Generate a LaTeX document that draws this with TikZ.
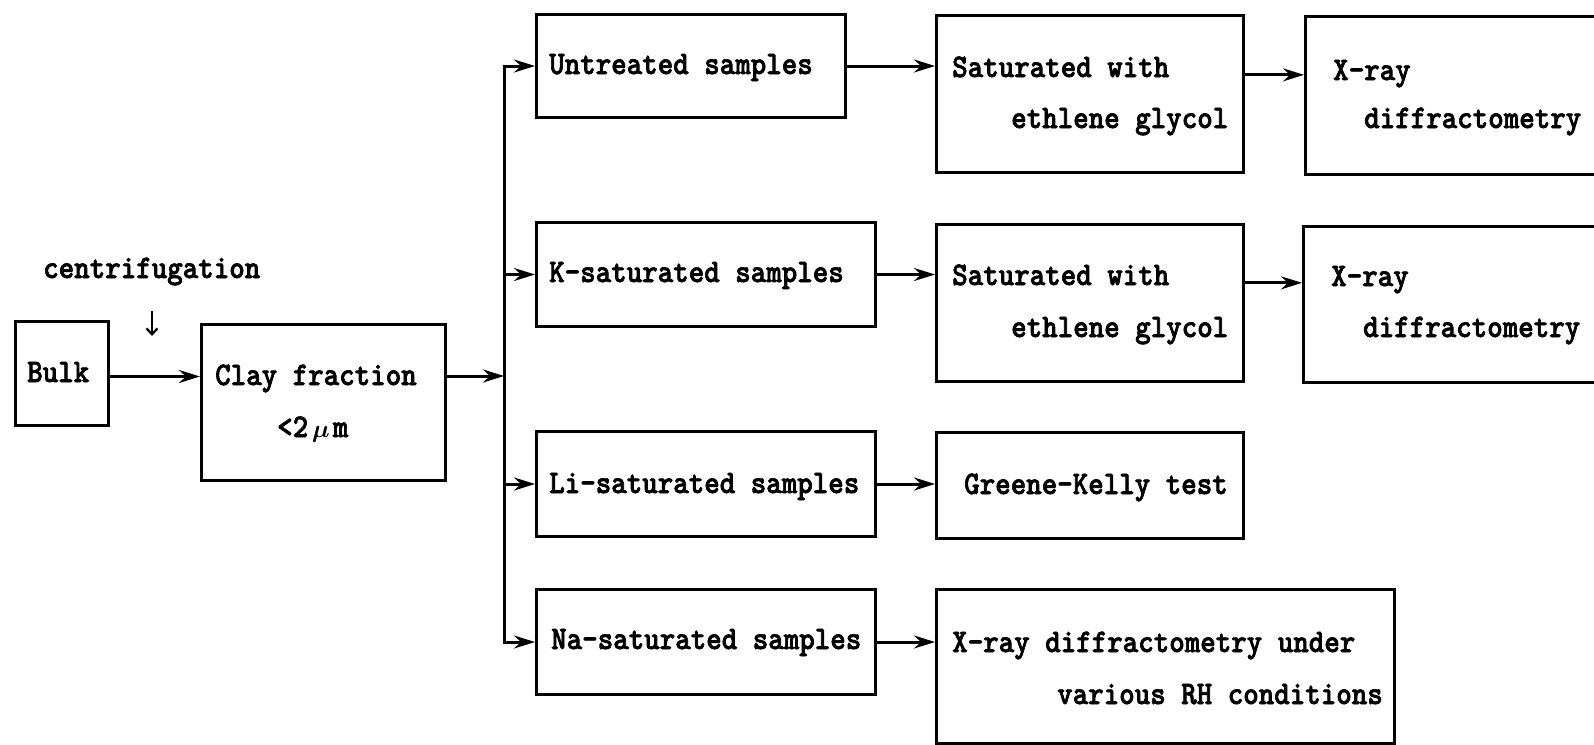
\documentclass[tikz,border=0pt]{standalone}
\usepackage{fontspec}
\usepackage{bm}
\newfontfamily\boxfont{lmmonolt10-bold.otf}[FakeStretch=0.895, FakeBold=2]
\usetikzlibrary{arrows.meta}

\begin{document}
\begin{tikzpicture}[x=1pt, y=-1pt,
  box/.style={draw, rectangle, line width=3pt, inner sep=0pt, anchor=north west},
  lbl/.style={anchor=base west, inner sep=0pt, font=\boxfont\fontsize{33pt}{40pt}\selectfont},
  arr/.style={line width=3pt, -{Stealth[length=21pt, width=13pt, inset=7pt]}},
  dn/.style={line width=2.2pt, -{Straight Barb[length=6pt, width=11pt]}}
]
\clip (0,0) rectangle (1594,744);

% boxes
\node[box, minimum width=93pt,  minimum height=104pt] (bulk) at (14,320) {};
\node[box, minimum width=244pt, minimum height=156pt] (clay) at (200,323) {};
\node[box, minimum width=309pt, minimum height=103pt] (unt)  at (535,13) {};
\node[box, minimum width=339pt, minimum height=104pt] (ks)   at (535,221) {};
\node[box, minimum width=339pt, minimum height=105pt] (li)   at (535,430) {};
\node[box, minimum width=339pt, minimum height=105pt] (na)   at (535,588) {};
\node[box, minimum width=307pt, minimum height=157pt] (sat1) at (935,14) {};
\node[box, minimum width=307pt, minimum height=157pt] (sat2) at (935,223) {};
\node[box, minimum width=307pt, minimum height=106pt] (gk)   at (935,431) {};
\node[box, minimum width=458pt, minimum height=154pt] (xrd)  at (935,588) {};
\node[box, minimum width=320pt, minimum height=158pt] (x1)   at (1304,15) {};
\node[box, minimum width=320pt, minimum height=156pt] (x2)   at (1302,225) {};

% texts
\node[lbl] (cent)  at (43,278)   {centrifugation};
\node[lbl] (bulkt) at (27,382)   {Bulk};
\node[lbl] (clayt) at (215,385)  {Clay fraction};
\node[lbl] (clayu) at (277,437)  {<2\hspace{4pt}$\bm{\mu}$\hspace{3pt}m};
\node[lbl] (untt)  at (549,74)   {Untreated samples};
\node[lbl] (kst)   at (549,282)  {K-saturated samples};
\node[lbl] (lit)   at (549,493)  {Li-saturated samples};
\node[lbl] (nat)   at (551,649)  {Na-saturated samples};
\node[lbl] (sat1a) at (952,77)   {Saturated with};
\node[lbl] (sat1b) at (1011,128) {ethlene glycol};
\node[lbl] (sat2a) at (952,285)  {Saturated with};
\node[lbl] (sat2b) at (1011,337) {ethlene glycol};
\node[lbl] (x1a)   at (1333,80)  {X-ray};
\node[lbl] (x1b)   at (1364,128) {diffractometry};
\node[lbl] (x2a)   at (1331,286) {X-ray};
\node[lbl] (x2b)   at (1363,337) {diffractometry};
\node[lbl] (gkt)   at (964,494)  {Greene-Kelly test};
\node[lbl] (xrda)  at (952,652)  {X-ray diffractometry under};
\node[lbl] (xrdb)  at (1057,704) {various RH conditions};

% centrifugation step
\coordinate (cdtop) at (152,311);
\coordinate (cdbot) at (152,336);
\draw[dn] (cdtop) -- (cdbot);

% bulk to clay fraction
\coordinate (bulkout) at ([yshift=-3pt]bulk.east);
\draw[arr] (bulkout) -- (bulkout -| clay.west);

% clay fraction to the splitter
\coordinate (split) at (504,376);
\draw[arr] (clay.east |- split) -- (split);
\draw[arr] (split) |- (unt.west);
\draw[arr] (split) |- (ks.west);
\draw[arr] (split) |- (li.west);
\draw[arr] (split) |- (na.west);

% treatments
\draw[arr] (unt.east) -- (unt.east -| sat1.west);
\draw[arr] (ks.east) -- (ks.east -| sat2.west);
\draw[arr] (li.east) -- (li.east -| gk.west);
\draw[arr] (na.east) -- (na.east -| xrd.west);
\draw[arr] (sat1.east |- sat1a.mid) -- (x1.west |- sat1a.mid);
\draw[arr] (sat2.east |- sat2a.mid) -- (x2.west |- sat2a.mid);
\end{tikzpicture}
\end{document}
